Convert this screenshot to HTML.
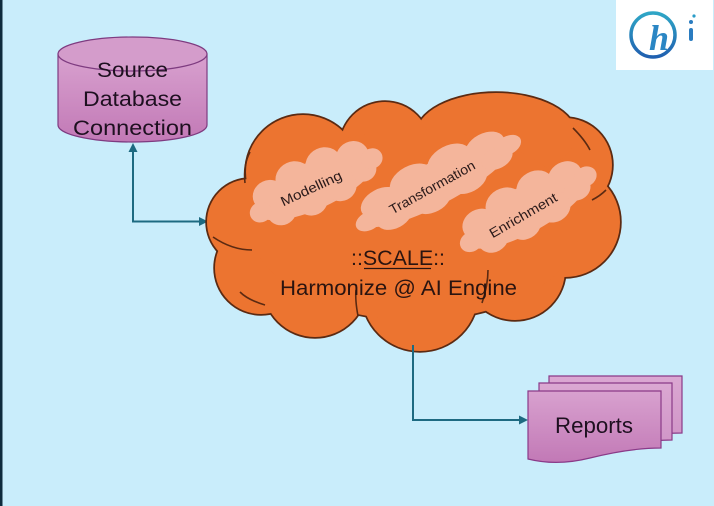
<!DOCTYPE html>
<html><head><meta charset="utf-8">
<style>
html,body{margin:0;padding:0;}
body{width:714px;height:506px;overflow:hidden;background:#c9edfb;font-family:"Liberation Sans",sans-serif;}
svg{display:block;}
</style></head><body>
<svg width="714" height="506" viewBox="0 0 714 506" xmlns="http://www.w3.org/2000/svg">
<defs>
<linearGradient id="pg" x1="0" y1="0" x2="0" y2="1"><stop offset="0" stop-color="#d8a1cf"/><stop offset="1" stop-color="#c279b6"/></linearGradient>
<linearGradient id="pg2" x1="0" y1="0" x2="0" y2="1"><stop offset="0" stop-color="#dba8d2"/><stop offset="1" stop-color="#cf92c6"/></linearGradient>
<linearGradient id="lg" x1="0" y1="0" x2="0" y2="1"><stop offset="0" stop-color="#2fa6c6"/><stop offset="1" stop-color="#2060b0"/></linearGradient>
<g id="sc">
<ellipse cx="0" cy="0" rx="72" ry="28"/>
<circle cx="-50" cy="-12" r="18"/><circle cx="-18" cy="-18" r="20"/><circle cx="18" cy="-18" r="20"/>
<circle cx="50" cy="-12" r="18"/><circle cx="-45" cy="12" r="16"/><circle cx="-10" cy="16" r="17"/>
<circle cx="25" cy="15" r="17"/><circle cx="55" cy="8" r="14"/><circle cx="-66" cy="2" r="12"/>
<circle cx="68" cy="0" r="12"/>
</g>
<g id="bc">
<circle cx="250" cy="222" r="43"/>
<circle cx="261" cy="268" r="46"/>
<circle cx="315" cy="285" r="52"/>
<circle cx="420" cy="293" r="58"/>
<circle cx="515" cy="270" r="50"/>
<circle cx="565" cy="222" r="55"/>
<circle cx="565" cy="165" r="47"/>
<ellipse cx="496" cy="135" rx="80" ry="42"/>
<circle cx="385" cy="147" r="45"/>
<circle cx="303" cy="172" r="57"/>
<ellipse cx="415" cy="225" rx="165" ry="95"/>
</g>
</defs>
<rect width="714" height="506" fill="#c9edfb"/>
<rect x="0" y="0" width="2.5" height="506" fill="#0e2b3c"/>

<!-- Logo -->
<rect x="616" y="0" width="97" height="70" fill="#ffffff"/>
<circle cx="653" cy="35" r="22" fill="none" stroke="url(#lg)" stroke-width="3.5"/>
<text x="659" y="50" font-family="Liberation Serif, serif" font-style="italic" font-weight="bold" font-size="36" fill="#2a86c4" text-anchor="middle">h</text>
<rect x="689" y="28" width="4" height="13" rx="2" fill="#2a7cc0"/>
<circle cx="691" cy="22" r="2" fill="#2a7cc0"/>
<circle cx="694" cy="16" r="1.6" fill="#2a9cc8"/>

<!-- Source database cylinder -->
<path d="M58,54 V125 A74.5,17 0 0 0 207,125 V54 Z" fill="url(#pg)" stroke="#7e3b80" stroke-width="1.2"/>
<ellipse cx="132.5" cy="54" rx="74.5" ry="17" fill="#d49ccb" stroke="#7e3b80" stroke-width="1.2"/>
<g font-size="21" fill="#1e1020" text-anchor="middle">
<text x="132.5" y="77" textLength="71" lengthAdjust="spacingAndGlyphs">Source</text>
<text x="132.5" y="106" textLength="99" lengthAdjust="spacingAndGlyphs">Database</text>
<text x="132.5" y="135" textLength="119" lengthAdjust="spacingAndGlyphs">Connection</text>
</g>

<!-- Connector 1 -->
<polyline points="133,151 133,221.5 200,221.5" fill="none" stroke="#1d6a81" stroke-width="2"/>
<polygon points="133,143 128.5,152 137.5,152" fill="#1d6a81"/>
<polygon points="208,221.5 199,217 199,226" fill="#1d6a81"/>

<!-- Big cloud -->
<use href="#bc" fill="#ec7430" stroke="#5b2a12" stroke-width="3.5"/>
<use href="#bc" fill="#ec7430"/>
<g fill="none" stroke="#5b2a12" stroke-width="1.6">
<path d="M213,237 Q232,250 252,250"/>
<path d="M245,183 Q243,165 250,152"/>
<path d="M573,128 Q585,140 590,150"/>
<path d="M592,200 Q600,196 606,190"/>
<path d="M482,303 Q488,285 488,270"/>
<path d="M358,316 Q355,300 356,290"/>
<path d="M265,305 Q248,300 240,292"/>
</g>

<!-- Inner clouds -->
<use href="#sc" fill="#f4b59b" transform="translate(315,185) rotate(-25) scale(0.92,0.84)"/>
<use href="#sc" fill="#f4b59b" transform="translate(437,183) rotate(-28) scale(1.18,0.76)"/>
<use href="#sc" fill="#f4b59b" transform="translate(527,209) rotate(-29) scale(0.98,0.82)"/>
<g font-size="13.5" fill="#2a1a1a" text-anchor="middle">
<text x="311" y="193" transform="rotate(-25 311 188)" textLength="66" lengthAdjust="spacingAndGlyphs">Modelling</text>
<text x="432" y="192" transform="rotate(-29 432 187)" textLength="96" lengthAdjust="spacingAndGlyphs">Transformation</text>
<text x="523" y="220" transform="rotate(-30 523 215)" textLength="76" lengthAdjust="spacingAndGlyphs">Enrichment</text>
</g>
<g font-size="21" fill="#2a1410" text-anchor="middle">
<text x="398" y="265" textLength="94" lengthAdjust="spacingAndGlyphs">::SCALE::</text>
<line x1="364" y1="268.5" x2="431" y2="268.5" stroke="#2a1410" stroke-width="1.3"/>
<text x="398.5" y="295" textLength="237" lengthAdjust="spacingAndGlyphs">Harmonize @ AI Engine</text>
</g>

<!-- Connector 2 -->
<polyline points="413,345 413,420 519,420" fill="none" stroke="#1d6a81" stroke-width="2"/>
<polygon points="528,420 519,415.5 519,424.5" fill="#1d6a81"/>

<!-- Reports multi-document -->
<g stroke="#8a3a88" stroke-width="1.2">
<path transform="translate(21,-15)" d="M528,391 H661 V448 C635,448 610,453 590,458 C570,463 548,464 528,459 Z" fill="url(#pg2)"/>
<path transform="translate(11,-8)" d="M528,391 H661 V448 C635,448 610,453 590,458 C570,463 548,464 528,459 Z" fill="url(#pg2)"/>
<path d="M528,391 H661 V448 C635,448 610,453 590,458 C570,463 548,464 528,459 Z" fill="url(#pg)"/>
</g>
<text x="594" y="433" font-size="22" fill="#1e1020" text-anchor="middle" textLength="78" lengthAdjust="spacingAndGlyphs">Reports</text>
</svg>
</body></html>
